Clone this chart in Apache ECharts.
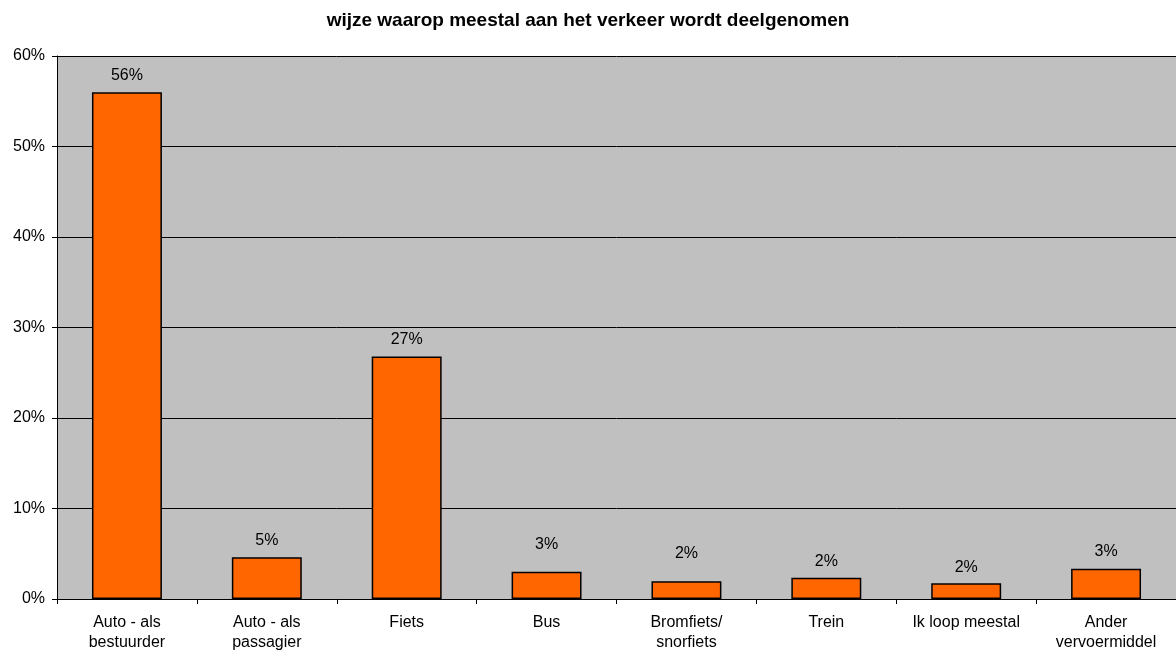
<!DOCTYPE html>
<html>
<head>
<meta charset="utf-8">
<script src="https://cdn.jsdelivr.net/npm/echarts@6/dist/echarts.min.js"></script>
<style>
html,body{margin:0;padding:0;background:#fff;}
#c{width:1176px;height:652px;}
</style>
</head>
<body>
<div id="c"></div>
<script>
const categories = ["Auto - als\nbestuurder", "Auto - als\npassagier", "Fiets", "Bus", "Bromfiets/\nsnorfiets", "Trein", "Ik loop meestal", "Ander\nvervoermiddel"];
const values = [56.0, 4.6, 26.8, 3.0, 1.95, 2.35, 1.75, 3.35];
const yTicks = [0, 10, 20, 30, 40, 50, 60];

const labelDistances = [9, 9, 9, 19, 20, 8, 8, 9];

const chart = echarts.init(document.getElementById('c'), null, {renderer: 'canvas'});
const font = '"Liberation Sans", Arial, sans-serif';
chart.setOption({
  animation: false,
  title: {
    text: 'wijze waarop meestal aan het verkeer wordt deelgenomen',
    left: 'center', top: 6,
    textStyle: {fontFamily: font, fontSize: 19, fontWeight: 'bold', color: '#000'}
  },
  grid: {
    left: 57, right: 0, top: 56, bottom: 53,
    containLabel: false, outerBoundsMode: 'none',
    show: true, backgroundColor: '#C0C0C0', borderWidth: 0
  },
  xAxis: {
    type: 'category',
    data: categories,
    axisLine: {lineStyle: {color: '#000', width: 1}},
    axisTick: {show: true, length: 5, lineStyle: {color: '#000'}},
    axisLabel: {fontFamily: font, fontSize: 16, color: '#000', lineHeight: 20, margin: 14, interval: 0}
  },
  yAxis: {
    type: 'value',
    min: yTicks[0], max: yTicks[yTicks.length - 1], interval: 10,
    axisLine: {show: true, lineStyle: {color: '#000', width: 1}},
    axisTick: {show: true, length: 5, lineStyle: {color: '#000'}},
    axisLabel: {fontFamily: font, fontSize: 16, color: '#000', margin: 12, formatter: v => v + '%'},
    splitLine: {show: true, lineStyle: {color: '#000', width: 1}}
  },
  series: [{
    type: 'bar',
    data: values.map((v, i) => ({value: v, label: {distance: labelDistances[i]}})),
    barWidth: '50%',
    itemStyle: {color: '#FF6600', borderColor: '#000', borderWidth: 1.5},
    label: {
      show: true, position: 'top',
      fontFamily: font, fontSize: 16, color: '#000',
      formatter: p => Math.round(p.value) + '%'
    }
  }]
});
</script>
</body>
</html>
